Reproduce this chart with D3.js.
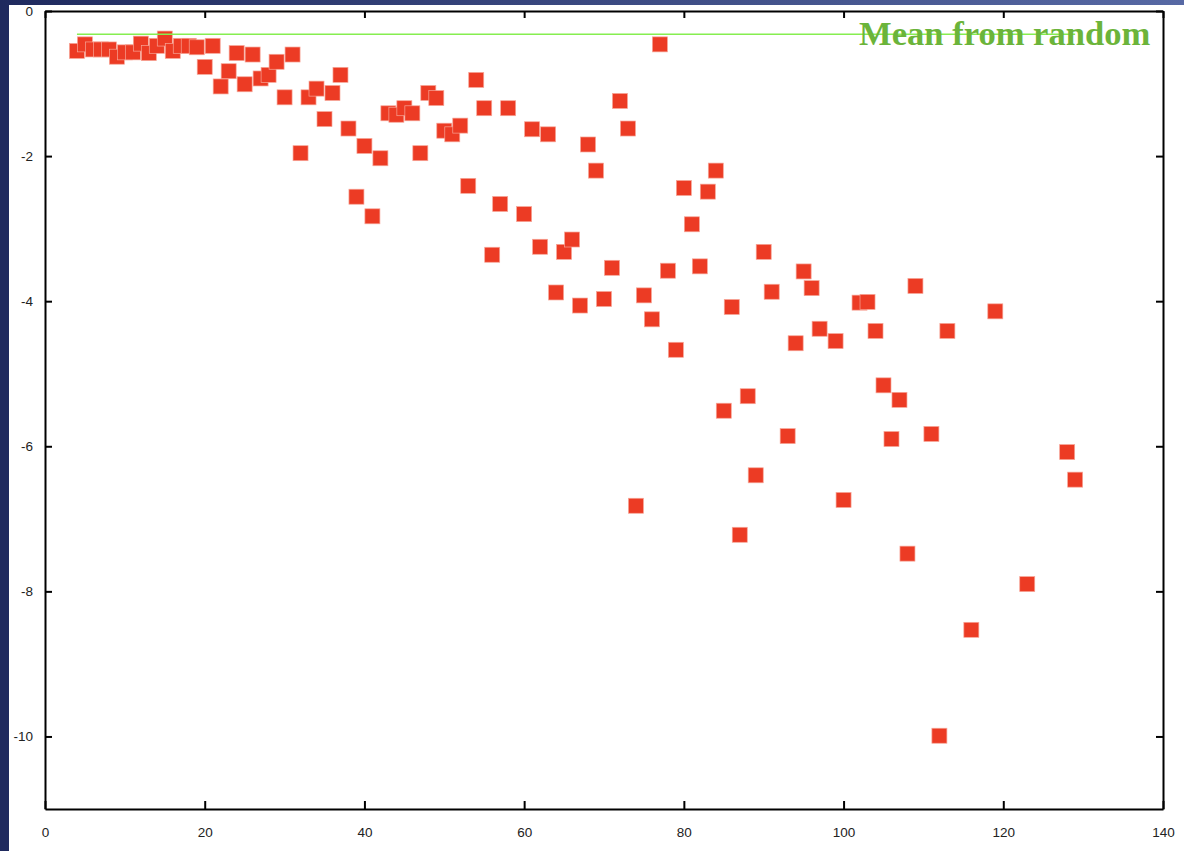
<!DOCTYPE html>
<html lang="en">
  <head>
    <meta charset="UTF-8" />
    <title>Mean from random</title>
    <style>
      body { margin: 0; background: #1f2a5e; }
      .axis path, .axis line { stroke: #000; stroke-width: 2; }
      .axis text { font-family: "Liberation Sans", Arial, sans-serif; font-size: 13.5px; fill: #222; }
    </style>
  </head>
  <body>
    <svg id="chart" width="1184" height="851"></svg>
  </body>
  <script src="https://cdn.jsdelivr.net/npm/d3@7/dist/d3.min.js"></script>
  <script>
    // points (x = position, y = log value)
    const xs = [4, 5, 6, 7, 8, 9, 10, 11, 12, 13, 14, 15, 16, 17, 18, 19, 20, 21, 22, 23,
      24, 25, 26, 27, 28, 29, 30, 31, 32, 33, 34, 35, 36, 37, 38, 39, 40, 41, 42, 43,
      44, 45, 46, 47, 48, 49, 50, 51, 52, 53, 54, 55, 56, 57, 58, 60, 61, 62, 63, 64,
      65, 66, 67, 68, 69, 70, 71, 72, 73, 74, 75, 76, 77, 78, 79, 80, 81, 82, 83, 84,
      85, 86, 87, 88, 89, 90, 91, 93, 94, 95, 96, 97, 99, 100, 102, 103, 104, 105, 106, 107,
      108, 109, 111, 112, 113, 116, 119, 123, 128, 129];
    const ys = [-0.55, -0.46, -0.53, -0.53, -0.53, -0.63, -0.57, -0.57, -0.45, -0.58, -0.48, -0.38, -0.55, -0.48, -0.48, -0.5, -0.77, -0.48, -1.04, -0.83,
      -0.58, -1.01, -0.6, -0.93, -0.88, -0.7, -1.19, -0.6, -1.96, -1.19, -1.07, -1.49, -1.13, -0.88, -1.62, -2.56, -1.86, -2.83, -2.03, -1.41,
      -1.43, -1.34, -1.41, -1.96, -1.13, -1.2, -1.65, -1.7, -1.58, -2.41, -0.95, -1.34, -3.36, -2.66, -1.34, -2.8, -1.63, -3.25, -1.7, -3.88,
      -3.32, -3.15, -4.06, -1.84, -2.2, -3.97, -3.54, -1.24, -1.62, -6.82, -3.92, -4.25, -0.46, -3.58, -4.67, -2.44, -2.94, -3.52, -2.49, -2.2,
      -5.51, -4.08, -7.22, -5.31, -6.4, -3.32, -3.87, -5.86, -4.58, -3.59, -3.82, -4.38, -4.55, -6.74, -4.02, -4.01, -4.41, -5.16, -5.9, -5.36,
      -7.48, -3.79, -5.83, -9.99, -4.41, -8.53, -4.14, -7.9, -6.08, -6.46];

    const meanRandom = -0.32;
    const meanLabel = "Mean from random";
    const xTicks = [0, 20, 40, 60, 80, 100, 120, 140];
    const yTicks = [0, -2, -4, -6, -8, -10];

    const svg = d3.select("#chart");

    // slide background: dark strip on the left, shaded strip on top
    const grad = svg.append("defs").append("linearGradient").attr("id", "topband");
    grad.append("stop").attr("offset", "0%").attr("stop-color", "#1f2a5e");
    grad.append("stop").attr("offset", "100%").attr("stop-color", "#5769a4");
    svg.append("rect").attr("width", 1184).attr("height", 851).attr("fill", "#1f2a5e");
    svg.append("rect").attr("width", 1184).attr("height", 5).attr("fill", "url(#topband)");
    svg.append("rect").attr("x", 9).attr("y", 5).attr("width", 1175).attr("height", 846).attr("fill", "#fff");

    const x = d3.scaleLinear().domain([0, 140]).range([45, 1163]);
    const y = d3.scaleLinear().domain([-11, 0]).range([809, 11]);

    const data = xs.map((v, i) => ({ x: v, y: ys[i] }));

    // squares
    svg.append("g")
      .selectAll("rect")
      .data(data)
      .enter()
      .append("rect")
      .attr("x", (d) => x(d.x) - 7.5)
      .attr("y", (d) => y(d.y) - 7.5)
      .attr("width", 15)
      .attr("height", 15)
      .attr("fill", "#ec3b24")
      .attr("stroke", "#f7a597")
      .attr("stroke-width", 0.7);

    // mean line, over the x range of the data
    svg.append("line")
      .attr("x1", x(d3.min(xs)))
      .attr("x2", x(d3.max(xs)))
      .attr("y1", y(meanRandom))
      .attr("y2", y(meanRandom))
      .attr("stroke", "#86ee50")
      .attr("stroke-width", 1.5);

    svg.append("text")
      .attr("x", 859)
      .attr("y", 45)
      .attr("font-family", "'Liberation Serif', 'Times New Roman', serif")
      .attr("font-weight", "bold")
      .attr("font-size", 34.6)
      .attr("fill", "#6bb43a")
      .text(meanLabel);

    // frame with inward ticks
    svg.append("g")
      .attr("class", "axis")
      .attr("transform", "translate(0,809)")
      .call(d3.axisBottom(x).tickValues(xTicks).tickSize(-8).tickSizeOuter(0).tickPadding(18).tickFormat((d) => String(d)));
    svg.append("g")
      .attr("class", "axis")
      .attr("transform", "translate(0,11)")
      .call(d3.axisTop(x).tickValues(xTicks).tickSize(-7).tickSizeOuter(0).tickFormat(""));
    svg.append("g")
      .attr("class", "axis")
      .attr("transform", "translate(45,0)")
      .call(d3.axisLeft(y).tickValues(yTicks).tickSize(-7).tickSizeOuter(0).tickPadding(12).tickFormat((d) => String(d)));
    svg.append("g")
      .attr("class", "axis")
      .attr("transform", "translate(1163,0)")
      .call(d3.axisRight(y).tickValues(yTicks).tickSize(-7).tickSizeOuter(0).tickFormat(""));
  </script>
</html>
